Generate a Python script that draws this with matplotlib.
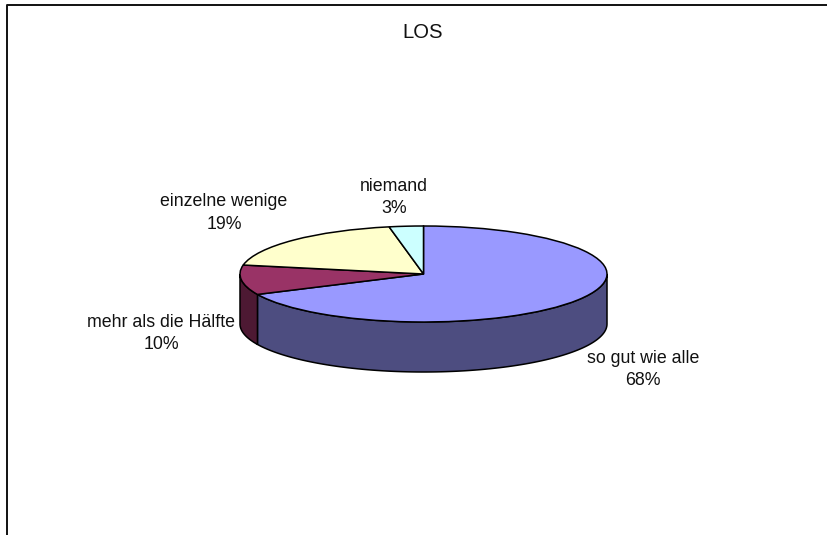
# -*- coding: utf-8 -*-
"""Excel style 3D pie chart: LOS."""
import matplotlib
matplotlib.use('Agg')
import matplotlib.pyplot as plt
import numpy as np

plt.rcParams['font.family'] = ['Liberation Sans', 'DejaVu Sans']

W, H = 828, 535

categories = ['so gut wie alle', 'mehr als die Hälfte', 'einzelne wenige', 'niemand']
values = [68, 10, 19, 3]
top_colors = ['#9999FF', '#993366', '#FFFFCC', '#CCFFFF']
side_colors = ['#4D4D80', '#4D1933', '#808066', '#668080']
label_pos = [(643, 369.5), (161, 333.5), (224, 213), (394, 197.5)]

CX, CY = 423.5, 274     # pie centre, pixels from top left
RX, RY = 183.5, 48
DEPTH = 50 / RY         # in axes units (radius = 1)


def side_patches(ax):
    """Draw the visible rim of each slice below the pie top."""
    edges = np.cumsum([0] + values) / sum(values) * 2 * np.pi
    for start, end, color in zip(edges[:-1], edges[1:], side_colors):
        # angle runs clockwise from the top; the front half is pi/2 .. 3pi/2
        lo, hi = max(start, np.pi / 2), min(end, 3 * np.pi / 2)
        if hi <= lo:
            continue
        t = np.linspace(lo, hi, 100)
        x, y = np.sin(t), np.cos(t)
        ax.fill(np.r_[x, x[::-1]], np.r_[y, y[::-1] - DEPTH],
                facecolor=color, edgecolor='black', linewidth=1.1,
                clip_on=False, zorder=1)


fig = plt.figure(figsize=(W / 100, H / 100), dpi=100, facecolor='white')
ax = fig.add_axes([(CX - RX) / W, 1 - (CY + RY) / H, 2 * RX / W, 2 * RY / H])

side_patches(ax)
wedges, _ = ax.pie(values, colors=top_colors, startangle=90, counterclock=False,
                   radius=1, wedgeprops={'edgecolor': 'black', 'linewidth': 1.1,
                                         'zorder': 2, 'clip_on': False})
ax.set_aspect('auto')
ax.set_xlim(-1, 1)
ax.set_ylim(-1, 1)
ax.axis('off')

# chart frame, left and top edges only
fig.add_artist(plt.Line2D([7 / W, 7 / W, 1], [0, 1 - 4.5 / H, 1 - 4.5 / H],
                          color='#111111', linewidth=1.4))

fig.text(423 / W, 1 - 32.5 / H, 'LOS', ha='center', va='center',
         fontsize=14.6, color='#111111')
for name, value, (px, py) in zip(categories, values, label_pos):
    fig.text(px / W, 1 - py / H, f'{name}\n{value}%', ha='center', va='center',
             fontsize=12.8, linespacing=1.45, color='#111111')

fig.savefig('out.png', dpi=100)
plt.close()
